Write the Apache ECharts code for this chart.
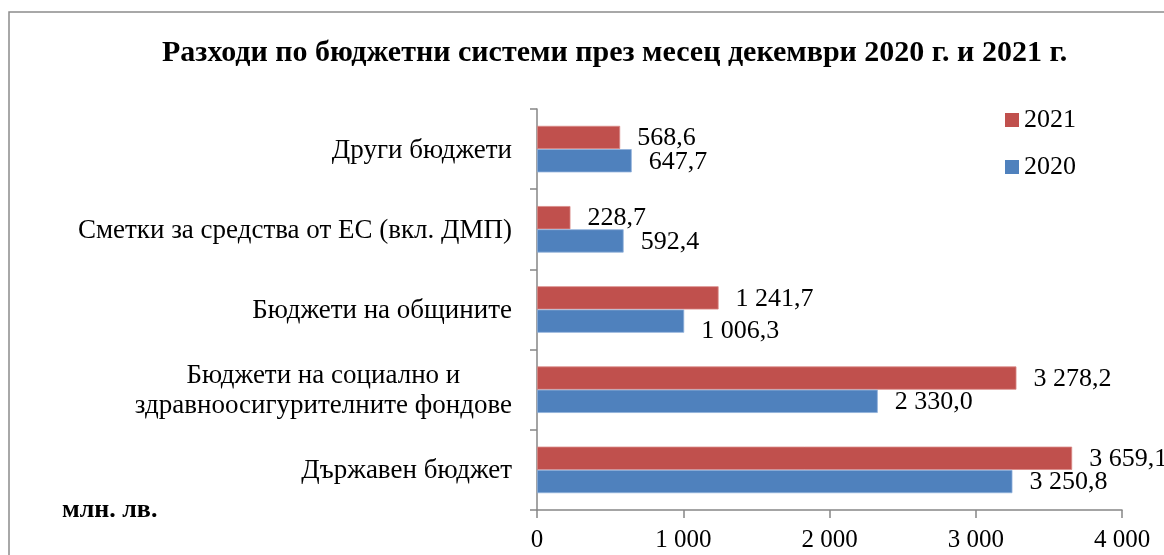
<!DOCTYPE html>
<html>
<head>
<meta charset="utf-8">
<script src="https://cdn.jsdelivr.net/npm/echarts@6/dist/echarts.min.js"></script>
<style>html,body{margin:0;padding:0;background:#fff;}#c{width:1164px;height:555px;}</style>
</head>
<body>
<div id="c"></div>
<script>
const titleText = 'Разходи по бюджетни системи през месец декември 2020 г. и 2021 г.';
const unitText = 'млн. лв.';
const categories = ['Държавен бюджет', 'Бюджети на социално и\nздравноосигурителните фондове', 'Бюджети на общините', 'Сметки за средства от ЕС (вкл. ДМП)', 'Други бюджети'];
const seriesNames = ['2021', '2020'];
const values2021 = [3659.1, 3278.2, 1241.7, 228.7, 568.6];
const values2020 = [3250.8, 2330.0, 1006.3, 592.4, 647.7];
const xTicks = [0, 1000, 2000, 3000, 4000];

const FONT = '"Liberation Serif", "Times New Roman", serif';
function fmtNum(v, dec) {
  const s = v.toFixed(dec);
  const parts = s.split('.');
  const int = parts[0].replace(/\B(?=(\d{3})+(?!\d))/g, ' ');
  return parts.length > 1 ? int + ',' + parts[1] : int;
}
const chart = echarts.init(document.getElementById('c'), null, {renderer: 'canvas'});
const labelCfg = {
  show: true, position: 'right', distance: 17, offset: [0, 1],
  fontFamily: FONT, fontSize: 26, color: '#000',
  formatter: p => fmtNum(p.value, 1)
};
// the label of the 2020 municipal-budget bar sits a little lower in the original
const data2020 = values2020.map((v, i) => i === 2 ? {value: v, label: {offset: [0, 10]}} : v);
chart.setOption({
  animation: false,
  backgroundColor: '#fff',
  title: {
    text: titleText, left: 162, top: 38, padding: 0,
    textStyle: {fontFamily: FONT, fontWeight: 'bold', fontSize: 30, color: '#000'}
  },
  legend: {
    data: seriesNames, orient: 'vertical', left: 1000, top: 102,
    itemWidth: 14, itemHeight: 14, itemGap: 21, icon: 'rect',
    itemStyle: {borderWidth: 0},
    textStyle: {fontFamily: FONT, fontSize: 26, color: '#000'}
  },
  graphic: [
    {type: 'rect', shape: {x: 9, y: 12, width: 1300, height: 700}, style: {fill: 'none', stroke: '#8c8c8c', lineWidth: 1.5}, silent: true},
    {type: 'text', left: 62, top: 497, style: {text: unitText, fontFamily: FONT, fontWeight: 'bold', fontSize: 26, fill: '#000'}}
  ],
  grid: {left: 537, right: 42, top: 109, bottom: 45, containLabel: false},
  xAxis: {
    type: 'value', min: 0, max: 4000, interval: 1000,
    axisLine: {show: true, lineStyle: {color: '#868686', width: 1.5}},
    axisTick: {show: true, length: 8, lineStyle: {color: '#868686', width: 1.5}},
    splitLine: {show: false},
    axisLabel: {fontFamily: FONT, fontSize: 25, color: '#000', margin: 18, formatter: v => fmtNum(v, 0)}
  },
  yAxis: {
    type: 'category', data: categories,
    axisLine: {show: true, lineStyle: {color: '#868686', width: 1.5}},
    axisTick: {show: true, length: 7, lineStyle: {color: '#868686', width: 1.5}},
    axisLabel: {
      fontFamily: FONT, fontSize: 27, color: '#000', margin: 25, lineHeight: 30,
      formatter: v => v.split('\n').map(l => '{c|' + l + '}').join('\n'),
      rich: {c: {align: 'center', fontFamily: FONT, fontSize: 27, color: '#000', lineHeight: 30, padding: [3, 0, 0, 0]}}
    }
  },
  series: [
    {name: '2021', type: 'bar', data: values2021, barGap: '0%', barCategoryGap: '42%',
     itemStyle: {color: '#C0504D', borderColor: '#d98a88', borderWidth: 0.8}, label: labelCfg},
    {name: '2020', type: 'bar', data: data2020, barGap: '0%', barCategoryGap: '42%',
     itemStyle: {color: '#4F81BD', borderColor: '#8fb0da', borderWidth: 0.8}, label: labelCfg}
  ]
});
</script>
</body>
</html>
